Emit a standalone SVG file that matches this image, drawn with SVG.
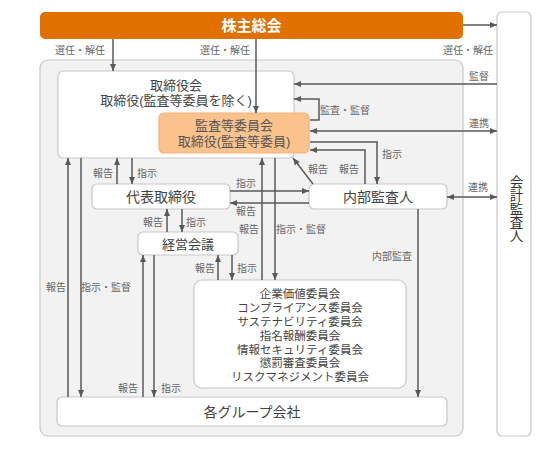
<svg xmlns="http://www.w3.org/2000/svg" width="560" height="450" viewBox="0 0 560 450">
<style>
text{font-family:"Liberation Sans","Noto Sans CJK JP",sans-serif;}
.box{fill:#fff;stroke:#c8c8c8;stroke-width:1.2;}
.t{font-size:13px;fill:#444;text-anchor:middle;}
.tc{font-size:11.5px;fill:#444;text-anchor:middle;}
.lb{font-size:10px;fill:#666;text-anchor:middle;}
.ln{fill:none;stroke:#595959;stroke-width:1.5;}
</style>
<defs>
<marker id="ah" markerUnits="userSpaceOnUse" markerWidth="8" markerHeight="8" viewBox="0 0 8 8" refX="7" refY="4" orient="auto-start-reverse">
<path d="M0,1 L7,4 L0,7 z" fill="#595959"/>
</marker>
</defs>
<rect width="560" height="450" fill="#fff"/>
<g id="container"><rect x="40" y="60" width="423" height="376" rx="8" fill="#f2f2f2" stroke="#c8c8c8" stroke-width="1.2"/></g>
<g id="shareholders"><rect x="40" y="12" width="423" height="27" rx="5" fill="#e07000"/><text x="251.5" y="31" font-size="15" font-weight="bold" fill="#fff" text-anchor="middle">株主総会</text></g>
<g id="auditor"><rect x="497" y="12" width="34" height="424" rx="5" class="box"/><text class="t" x="515" y="208.5" style="writing-mode:vertical-rl;font-size:13.5px;fill:#333">会計監査人</text></g>
<g id="board"><rect x="58" y="71" width="236" height="87" rx="5" class="box"/><text class="t" x="176" y="90">取締役会</text><text class="t" x="176" y="105">取締役(監査等委員を除く)</text></g>
<g id="audit-committee"><rect x="159" y="113" width="150" height="40" rx="5" fill="#fac38e" stroke="#f0b27a" stroke-width="1.2"/><text class="t" x="234" y="130" style="fill:#555">監査等委員会</text><text class="t" x="234" y="146" style="fill:#555">取締役(監査等委員)</text></g>
<g id="president"><rect x="92" y="184" width="138" height="25" rx="5" class="box"/><text class="t" x="161" y="201.5" style="font-size:14px">代表取締役</text></g>
<g id="internal-audit"><rect x="309" y="184" width="138" height="25" rx="5" class="box"/><text class="t" x="378" y="201.5" style="font-size:14px">内部監査人</text></g>
<g id="management"><rect x="138" y="232" width="100" height="23" rx="5" class="box"/><text class="t" x="188" y="248.5">経営会議</text></g>
<g id="committees"><rect x="194" y="280" width="212" height="108" rx="8" class="box"/>
<text class="tc" x="300" y="298">企業価値委員会</text>
<text class="tc" x="300" y="312">コンプライアンス委員会</text>
<text class="tc" x="300" y="326">サステナビリティ委員会</text>
<text class="tc" x="300" y="339.5">指名報酬委員会</text>
<text class="tc" x="300" y="353.5">情報セキュリティ委員会</text>
<text class="tc" x="300" y="367">懲罰審査委員会</text>
<text class="tc" x="300" y="381">リスクマネジメント委員会</text></g>
<g id="group"><rect x="57" y="397" width="390" height="29" rx="5" class="box"/><text class="t" x="252" y="416.5" style="font-size:14px">各グループ会社</text></g>
<g id="connectors">
<path class="ln" d="M113,39 V71" marker-end="url(#ah)"/>
<path class="ln" d="M256,39 V113" marker-end="url(#ah)"/>
<path class="ln" d="M463,25 H497" marker-end="url(#ah)"/>
<path class="ln" d="M497,84 H294" marker-end="url(#ah)"/>
<path class="ln" d="M310,120 H319 V99 H294" marker-end="url(#ah)"/>
<path class="ln" d="M310,131 H497" marker-start="url(#ah)" marker-end="url(#ah)"/>
<path class="ln" d="M310,142 H377 V184" marker-end="url(#ah)"/>
<path class="ln" d="M365,184 V150 H310" marker-end="url(#ah)"/>
<path class="ln" d="M313,184 L293,158" marker-end="url(#ah)"/>
<path class="ln" d="M117,184 V158" marker-end="url(#ah)"/>
<path class="ln" d="M132,158 V184" marker-end="url(#ah)"/>
<path class="ln" d="M230,191 H309" marker-end="url(#ah)"/>
<path class="ln" d="M309,203 H230" marker-end="url(#ah)"/>
<path class="ln" d="M447,197 H497" marker-start="url(#ah)" marker-end="url(#ah)"/>
<path class="ln" d="M167,232 V209" marker-end="url(#ah)"/>
<path class="ln" d="M182,209 V232" marker-end="url(#ah)"/>
<path class="ln" d="M218,280 V255" marker-end="url(#ah)"/>
<path class="ln" d="M232,255 V280" marker-end="url(#ah)"/>
<path class="ln" d="M262,280 V158" marker-end="url(#ah)"/>
<path class="ln" d="M275,158 V280" marker-end="url(#ah)"/>
<path class="ln" d="M68,397 V158" marker-end="url(#ah)"/>
<path class="ln" d="M81,158 V397" marker-end="url(#ah)"/>
<path class="ln" d="M143,397 V255" marker-end="url(#ah)"/>
<path class="ln" d="M154,255 V397" marker-end="url(#ah)"/>
<path class="ln" d="M418,209 V397" marker-end="url(#ah)"/>
</g>
<g id="labels">
<text class="lb" x="80" y="54">選任・解任</text>
<text class="lb" x="225" y="54">選任・解任</text>
<text class="lb" x="468" y="54">選任・解任</text>
<text class="lb" x="479" y="80">監督</text>
<text class="lb" x="345" y="114">監査・監督</text>
<text class="lb" x="479" y="127">連携</text>
<text class="lb" x="392" y="158">指示</text>
<text class="lb" x="318" y="173">報告</text>
<text class="lb" x="349" y="173">報告</text>
<text class="lb" x="478" y="191">連携</text>
<text class="lb" x="103" y="177">報告</text>
<text class="lb" x="147" y="177">指示</text>
<text class="lb" x="246" y="187">指示</text>
<text class="lb" x="246" y="215">報告</text>
<text class="lb" x="153" y="226">報告</text>
<text class="lb" x="196" y="226">指示</text>
<text class="lb" x="249" y="233">報告</text>
<text class="lb" x="301" y="233">指示・監督</text>
<text class="lb" x="392" y="260">内部監査</text>
<text class="lb" x="205" y="272">報告</text>
<text class="lb" x="247" y="272">指示</text>
<text class="lb" x="56" y="291">報告</text>
<text class="lb" x="106" y="291">指示・監督</text>
<text class="lb" x="128" y="392">報告</text>
<text class="lb" x="171" y="392">指示</text>
</g>
</svg>
